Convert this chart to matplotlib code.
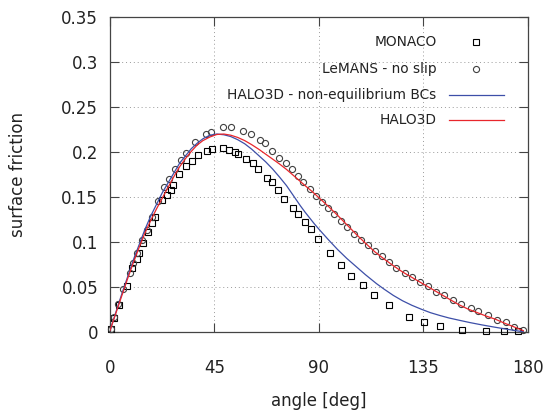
import matplotlib
matplotlib.use("Agg")
import matplotlib.pyplot as plt

plt.rcParams['font.family'] = ['DejaVu Sans']

# MONACO (squares)
monaco_angle = [0.4, 1.9, 4.0, 7.5, 9.6, 11.5, 12.6, 14.3, 16.2, 18.2, 19.4, 22.3,
                24.4, 26.3, 27.3, 29.7, 32.7, 35.2, 37.8, 41.9, 43.9, 48.7, 51.2,
                53.8, 55.0, 58.6, 61.4, 63.9, 67.5, 69.6, 72.5, 75.1, 78.7, 81.1,
                84.0, 86.4, 89.7, 94.7, 99.3, 103.8, 108.8, 113.7, 120.3, 128.9,
                135.3, 142.1, 151.7, 161.8, 169.8, 175.8]
monaco_cf = [0.004, 0.016, 0.030, 0.051, 0.072, 0.081, 0.088, 0.099, 0.111, 0.122,
             0.128, 0.147, 0.153, 0.158, 0.164, 0.176, 0.185, 0.190, 0.197, 0.202,
             0.204, 0.205, 0.203, 0.200, 0.198, 0.193, 0.188, 0.181, 0.172, 0.167,
             0.158, 0.148, 0.138, 0.131, 0.123, 0.115, 0.104, 0.088, 0.075, 0.063,
             0.053, 0.041, 0.030, 0.017, 0.012, 0.007, 0.003, 0.002, 0.001, 0.001]

# LeMANS - no slip (circles)
lemans_angle = [0.4, 1.9, 3.6, 5.7, 8.6, 10.0, 11.8, 13.9, 15.8, 18.0, 20.8, 23.4,
                25.5, 28.0, 30.6, 32.7, 36.5, 41.3, 43.5, 48.8, 52.0, 57.1, 60.7,
                64.6, 66.7, 69.9, 72.9, 75.8, 78.5, 80.8, 83.2, 86.1, 88.7, 91.2,
                93.7, 96.6, 99.3, 102.2, 105.1, 108.0, 111.0, 114.1, 117.0, 120.3,
                123.2, 127.0, 129.9, 133.5, 136.8, 140.4, 144.0, 147.6, 151.0,
                155.3, 158.6, 162.6, 166.5, 170.4, 174.1, 177.7]
lemans_cf = [0.004, 0.017, 0.031, 0.048, 0.066, 0.077, 0.088, 0.103, 0.114, 0.128,
             0.146, 0.161, 0.170, 0.182, 0.192, 0.199, 0.211, 0.220, 0.223, 0.228,
             0.228, 0.224, 0.220, 0.214, 0.210, 0.202, 0.194, 0.188, 0.181, 0.174,
             0.167, 0.159, 0.152, 0.145, 0.138, 0.131, 0.124, 0.117, 0.109, 0.103,
             0.097, 0.090, 0.085, 0.078, 0.072, 0.066, 0.062, 0.056, 0.051, 0.045,
             0.041, 0.036, 0.031, 0.027, 0.024, 0.019, 0.014, 0.011, 0.006, 0.003]

# HALO3D - non-equilibrium BCs (blue)
noneq_angle = [0, 2.5, 5, 7.5, 10, 12.5, 15, 17.5, 20, 22.5, 25, 27.5, 30, 32.5, 35,
               37.5, 40, 43, 46, 49, 52, 55, 58, 61, 64, 67, 70, 73, 76, 78, 80, 82,
               84, 86, 88, 90, 94, 98, 102, 106, 110, 114.8, 118, 122, 126, 130,
               134.2, 138, 142, 146, 150.7, 155, 160, 165, 170, 175, 178]
noneq_cf = [0.002, 0.022, 0.042, 0.061, 0.080, 0.097, 0.114, 0.129, 0.142, 0.155,
            0.166, 0.177, 0.188, 0.196, 0.204, 0.210, 0.215, 0.219, 0.2203, 0.2195,
            0.2175, 0.214, 0.2095, 0.2035, 0.1965, 0.1895, 0.1815, 0.1725, 0.163,
            0.1555, 0.148, 0.1405, 0.1335, 0.127, 0.1205, 0.1145, 0.103, 0.092,
            0.082, 0.073, 0.064, 0.054, 0.048, 0.041, 0.035, 0.030, 0.0255, 0.0218,
            0.0187, 0.0159, 0.0132, 0.0108, 0.0083, 0.0060, 0.0038, 0.0017, 0.0007]

# HALO3D (red)
halo_angle = [0, 2.5, 5, 7.5, 10, 12.5, 15, 17.5, 20, 22.5, 25, 27.5, 30, 32.5, 35,
              37.5, 40, 43, 46, 49, 52, 55, 58, 61, 64, 67, 70, 73, 76, 80, 84, 87,
              90, 94, 98, 102, 106, 110, 114, 118, 122, 126, 130, 134, 138, 142, 146,
              150, 154, 158, 162, 166, 170, 174, 178]
halo_cf = [0.002, 0.021, 0.040, 0.059, 0.077, 0.094, 0.110, 0.124, 0.137, 0.149,
           0.161, 0.173, 0.184, 0.193, 0.201, 0.208, 0.213, 0.217, 0.2198, 0.2203,
           0.219, 0.2165, 0.213, 0.2085, 0.2035, 0.198, 0.1925, 0.187, 0.181,
           0.172, 0.163, 0.1565, 0.1495, 0.140, 0.130, 0.1195, 0.109, 0.099,
           0.0895, 0.0815, 0.074, 0.067, 0.061, 0.055, 0.049, 0.043, 0.037, 0.031,
           0.026, 0.022, 0.018, 0.0145, 0.010, 0.006, 0.0018]

xticks = [0, 45, 90, 135, 180]
yticks = [0, 0.05, 0.1, 0.15, 0.2, 0.25, 0.3, 0.35]
ytick_labels = ["0", "0.05", "0.1", "0.15", "0.2", "0.25", "0.3", "0.35"]

BLUE = "#3d4fa8"
RED = "#e8262b"
FRAME = "#444444"
TXT = "#222222"
SQ = dict(ls="none", marker="s", ms=4.2, mfc="none", mec="black", mew=0.8)
CI = dict(ls="none", marker="o", ms=4.4, mfc="none", mec="#404040", mew=0.8)

fig = plt.figure(figsize=(5.46, 4.13), dpi=100)
ax = fig.add_axes([110 / 546, 1 - 332.3 / 413, 418 / 546, 315 / 413])

ax.plot(monaco_angle, monaco_cf, clip_on=False, zorder=3, **SQ)
ax.plot(lemans_angle, lemans_cf, clip_on=False, zorder=3, **CI)
ax.plot(noneq_angle, noneq_cf, color=BLUE, lw=0.9, zorder=4)
ax.plot(halo_angle, halo_cf, color=RED, lw=0.9, zorder=4)

ax.set_xlim(0, 180)
ax.set_ylim(0, 0.35)
ax.set_xticks(xticks)
ax.set_yticks(yticks)
ax.set_yticklabels(ytick_labels)
ax.tick_params(direction="in", length=6.5, width=0.8, color=FRAME,
               top=True, right=True, labelsize=12, labelcolor=TXT)
ax.tick_params(axis="x", pad=19.3)
ax.tick_params(axis="y", pad=8.5)
ax.grid(True, color="#999999", lw=0.7, ls=(0, (1, 3)))
for s in ax.spines.values():
    s.set_color(FRAME)
    s.set_linewidth(0.9)

ax.set_xlabel("angle [deg]", fontsize=12, color=TXT)
ax.set_ylabel("surface friction", fontsize=12, color=TXT)
ax.xaxis.set_label_coords(0.5, -0.19)
ax.yaxis.set_label_coords(-0.199, 0.5)

# legend drawn gnuplot style: text right aligned, sample on the right
entries = [("MONACO", SQ),
           ("LeMANS - no slip", CI),
           ("HALO3D - non-equilibrium BCs", dict(color=BLUE, lw=0.9)),
           ("HALO3D", dict(color=RED, lw=0.9))]
ys = [0.9225, 0.836, 0.7533, 0.674]
for (label, style), y in zip(entries, ys):
    ax.text(0.7816, y, label, transform=ax.transAxes, ha="right", va="center",
            fontsize=9.9, color=TXT)
    if style.get("ls") == "none":
        ax.plot([0.8756], [y], transform=ax.transAxes, clip_on=False, **style)
    else:
        ax.plot([0.811, 0.9426], [y, y], transform=ax.transAxes, clip_on=False, **style)

fig.savefig("out.png", dpi=100)
